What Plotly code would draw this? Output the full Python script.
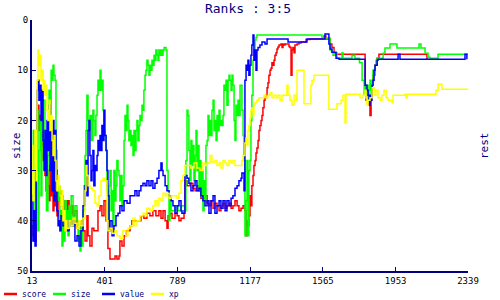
import plotly.graph_objects as go

# ---------------- data ----------------
score_x = [13, 18, 24, 29, 35, 40, 45, 50, 56, 61, 66, 72, 77, 82, 88, 93, 98, 104, 109, 114, 120, 125, 130, 136, 141, 146, 152, 157, 162, 168, 173, 178, 184, 189, 200, 205, 211, 216, 221, 226, 232, 242, 253, 264, 274, 285, 296, 306, 312, 322, 333, 343, 354, 365, 376, 386, 397, 408, 418, 429, 445, 456, 466, 477, 482, 493, 504, 514, 525, 536, 546, 562, 578, 594, 610, 626, 642, 658, 674, 690, 701, 712, 723, 733, 739, 749, 760, 776, 787, 797, 808, 824, 829, 840, 856, 872, 883, 893, 904, 914, 925, 936, 947, 957, 968, 979, 989, 1000, 1011, 1021, 1032, 1043, 1053, 1064, 1075, 1085, 1096, 1107, 1117, 1128, 1139, 1149, 1155, 1160, 1165, 1170, 1176, 1181, 1186, 1192, 1197, 1203, 1208, 1213, 1219, 1224, 1229, 1235, 1240, 1245, 1251, 1256, 1261, 1267, 1272, 1277, 1283, 1288, 1293, 1299, 1304, 1309, 1315, 1320, 1325, 1331, 1341, 1347, 1352, 1357, 1363, 1373, 1384, 1389, 1395, 1400, 1405, 1411, 1416, 1427, 1437, 1448, 1464, 1475, 1496, 1560, 1571, 1581, 1592, 1603, 1613, 1624, 1635, 1774, 1790, 1795, 1800, 1806, 1811, 1816, 1822, 1827, 1832, 1843, 1854, 1864, 1870, 2120, 2126, 2339]
score_y = [41, 43, 40, 44, 28, 20, 17, 22, 19, 25, 22, 28, 26, 31, 34, 30, 33, 36, 29, 35, 31, 38, 35, 37, 34, 39, 36, 35, 34, 37, 35, 38, 39, 36, 38, 36, 39, 37, 38.5, 37, 39, 38, 41.5, 41.5, 40, 42, 44, 39, 43, 45, 41.5, 42, 42, 38, 37, 39, 36, 40, 45.5, 47.6, 47.6, 47, 47.6, 47, 44, 45, 43, 42, 42, 41, 40, 40, 40, 39, 39.5, 38.5, 39, 38, 39, 38, 39.5, 38, 40, 41.5, 39, 38.5, 39.5, 38.5, 39, 40, 39.5, 38, 32, 33, 32.5, 33.5, 34, 33, 34, 35.5, 36, 35, 36.5, 37, 36, 37.5, 36.5, 37, 38, 37, 36.5, 37.5, 37, 36.5, 37.5, 37, 36, 37, 38, 37.5, 37, 38, 43, 40, 41, 39, 35, 37, 33, 31, 29, 28, 26.5, 25.5, 24, 22, 21, 20, 19, 17.5, 16, 15.5, 15, 13.5, 12.5, 11, 10, 9.6, 8.5, 9, 8, 7, 6.5, 5.8, 5.4, 5, 4.8, 5.5, 4.8, 5, 4.8, 4.8, 5.3, 5.5, 11, 6, 5.5, 6.5, 5, 4.8, 4.6, 4.4, 4.4, 3.9, 3.8, 3.8, 3.2, 3.8, 3.8, 4.8, 5.5, 6.5, 6.8, 6.8, 13, 16, 15.5, 17, 16, 19, 15, 13, 11, 9, 7.6, 6.8, 6.8, 7.6, 7.6]

size_x = [13, 20, 29, 35, 40, 45, 50, 56, 61, 66, 72, 82, 90, 98, 104, 110, 115, 120, 125, 130, 136, 141, 146, 152, 158, 162, 168, 173, 178, 184, 189, 195, 200, 205, 211, 216, 222, 232, 242, 253, 259, 264, 269, 274, 280, 285, 291, 296, 301, 306, 312, 317, 322, 330, 338, 343, 349, 354, 360, 365, 370, 376, 381, 386, 392, 397, 402, 408, 413, 418, 424, 429, 435, 440, 445, 450, 456, 461, 466, 472, 477, 482, 488, 493, 498, 504, 509, 515, 520, 525, 530, 536, 541, 546, 552, 557, 562, 568, 573, 578, 584, 589, 594, 600, 605, 610, 616, 621, 626, 632, 637, 642, 648, 653, 658, 664, 669, 674, 680, 685, 690, 696, 701, 707, 712, 718, 728, 733, 739, 744, 749, 755, 760, 776, 792, 808, 829, 834, 840, 845, 850, 856, 861, 866, 872, 877, 883, 888, 893, 899, 904, 909, 914, 920, 925, 931, 936, 941, 947, 952, 957, 963, 968, 973, 979, 984, 989, 995, 1000, 1005, 1011, 1016, 1021, 1027, 1032, 1037, 1043, 1048, 1053, 1059, 1064, 1069, 1075, 1080, 1085, 1091, 1096, 1101, 1107, 1112, 1117, 1123, 1128, 1133, 1139, 1144, 1149, 1155, 1160, 1165, 1170, 1176, 1181, 1186, 1192, 1197, 1203, 1208, 1213, 1219, 1229, 1560, 1576, 1603, 1619, 1630, 1640, 1651, 1667, 1672, 1678, 1720, 1736, 1760, 1774, 1785, 1800, 1806, 1811, 1816, 1822, 1827, 1832, 1838, 1843, 1848, 1854, 1864, 1886, 1896, 1923, 1960, 2078, 2088, 2110, 2126, 2136, 2179, 2339]
size_y = [36, 22, 40, 30, 18, 42, 26, 20, 35, 22, 16, 28, 38, 27, 14, 25, 10, 12, 9, 11, 12, 26, 32, 36, 33, 42, 38, 45, 40, 44, 36, 41, 38, 43, 37, 40, 35, 41, 37, 40, 44, 42, 46, 41, 45, 38, 33, 27, 22, 15, 20, 22, 19, 24, 18, 20, 23, 19, 15, 12, 14, 10, 14, 12, 18, 22, 23, 26, 34, 40, 33, 30, 38, 34, 41, 30, 36, 33, 28, 30, 31, 36, 31, 37, 33, 24, 19, 22, 17, 20, 24, 22, 25, 23, 27, 22, 26, 22, 20, 24, 21, 19, 20, 17, 18, 14, 11, 10, 8, 9, 11, 9, 10, 8, 9, 7, 8, 6, 7, 8, 6, 7, 6, 7, 6, 5.5, 6, 30, 34, 40, 36, 38, 38, 37, 38, 37, 38, 28, 18, 19, 26, 32, 24, 29, 25, 32, 27, 22, 30, 25, 34, 28, 35, 30, 38, 32, 36, 25, 24, 19, 23, 20, 23, 18, 16, 22, 20, 24, 19, 22, 18, 21, 20, 21, 19, 13, 14, 12, 17, 12, 11, 12, 14, 11, 13, 20, 24, 17, 19, 16, 19, 13, 13, 18, 23, 28, 43, 36, 28, 43, 30, 28, 20, 15, 8, 6, 4, 3.5, 3, 3, 3, 3.6, 3.6, 6, 7, 6.5, 7.6, 7.6, 6.5, 7.6, 7.6, 7, 7.6, 8.5, 12, 15, 13, 16, 14, 12, 15, 13, 10, 11, 9, 8, 7.6, 7.6, 6.6, 5.6, 4.8, 5.6, 4.8, 5.6, 6.6, 7.4, 7.6, 6.8, 6.8]

value_x = [13, 18, 24, 29, 35, 40, 45, 50, 56, 61, 66, 72, 77, 82, 88, 93, 98, 104, 109, 114, 120, 125, 130, 136, 141, 146, 152, 157, 162, 168, 178, 189, 200, 211, 221, 232, 242, 253, 264, 274, 285, 296, 301, 306, 312, 317, 322, 328, 333, 338, 343, 349, 354, 360, 365, 370, 376, 381, 386, 392, 397, 402, 408, 413, 418, 424, 429, 440, 450, 461, 472, 482, 493, 504, 520, 536, 552, 562, 573, 584, 594, 605, 616, 626, 637, 648, 658, 669, 680, 690, 701, 707, 712, 723, 733, 744, 755, 765, 776, 787, 797, 808, 813, 829, 840, 850, 861, 872, 883, 893, 904, 914, 925, 936, 947, 957, 968, 979, 989, 1000, 1011, 1021, 1032, 1043, 1053, 1064, 1075, 1085, 1096, 1107, 1117, 1128, 1133, 1144, 1149, 1155, 1160, 1165, 1170, 1176, 1181, 1186, 1192, 1197, 1203, 1208, 1213, 1219, 1229, 1240, 1256, 1267, 1379, 1480, 1571, 1576, 1597, 1603, 1613, 1635, 1651, 1774, 1790, 1800, 1806, 1811, 1816, 1822, 1827, 1832, 1838, 1843, 1854, 1859, 1966, 1976, 2323, 2333]
value_y = [35, 44, 38, 45, 30, 14, 12, 16, 13, 20, 14, 24, 30, 22, 31, 20, 26, 17, 30, 22, 34, 20, 36, 22, 30, 38, 41, 40, 42, 39, 41, 40, 42, 40, 41, 40, 44, 43, 45, 42, 37, 33, 28, 35, 22, 20, 27, 32, 30, 26, 33, 29, 30, 27, 24, 26, 23, 26, 21, 24, 18, 23, 26, 30, 35, 42, 40, 43, 41, 39, 38.5, 37, 38, 36, 36.5, 35, 35, 34, 35, 34, 33, 32.5, 33, 32, 33, 32, 33.5, 32.5, 31.5, 30, 28.5, 30, 31, 33, 34, 35, 36, 37, 38.5, 37, 36, 38, 38.5, 31, 31.5, 32.5, 34, 33, 32, 34, 33.5, 35, 36, 37, 36, 38.5, 36, 35, 38.5, 37, 36, 37.5, 36, 38, 36, 37, 35.5, 35, 33.5, 33, 32, 31.5, 30.5, 34, 12, 9, 10, 8, 11, 9, 7, 5, 3, 8, 6, 10, 6, 5.5, 5, 4.4, 4.8, 3.8, 4.4, 3.8, 3.8, 2.8, 4.8, 5.8, 6.4, 7.6, 7.8, 7.8, 13, 14, 15, 17, 15, 16, 13, 12, 10, 9, 8, 7.8, 6.8, 7.8, 6.8, 7.8]

xp_x = [13, 18, 24, 29, 35, 40, 45, 50, 56, 61, 66, 72, 77, 82, 88, 93, 98, 104, 109, 114, 120, 125, 130, 136, 141, 146, 152, 157, 162, 168, 173, 178, 184, 189, 195, 200, 211, 221, 232, 242, 253, 264, 274, 285, 296, 301, 306, 312, 322, 338, 349, 360, 370, 381, 392, 402, 413, 418, 429, 440, 456, 466, 482, 498, 514, 525, 536, 552, 562, 573, 589, 605, 616, 626, 642, 658, 669, 680, 690, 701, 712, 723, 733, 744, 755, 771, 787, 797, 808, 818, 829, 845, 861, 877, 893, 909, 925, 936, 947, 963, 973, 989, 1000, 1011, 1021, 1032, 1043, 1053, 1064, 1075, 1085, 1096, 1107, 1123, 1133, 1139, 1149, 1155, 1160, 1165, 1170, 1176, 1181, 1186, 1192, 1197, 1203, 1213, 1224, 1240, 1251, 1261, 1272, 1283, 1293, 1304, 1315, 1325, 1336, 1347, 1363, 1373, 1379, 1389, 1400, 1411, 1421, 1427, 1459, 1464, 1496, 1501, 1507, 1517, 1592, 1597, 1630, 1640, 1662, 1672, 1683, 1688, 1752, 1763, 1779, 1790, 1795, 1800, 1806, 1816, 1827, 1838, 1848, 1859, 1870, 1880, 1891, 1902, 1912, 1934, 1939, 2003, 2008, 2014, 2163, 2168, 2179, 2200, 2339]
xp_y = [25, 36, 30, 22, 32, 12, 6, 9, 7, 12, 10, 14, 12, 15, 13, 18, 20, 16, 22, 19, 24, 27, 23, 28, 32, 34, 31, 33, 35, 37, 34, 40, 38, 42, 40, 41.5, 40, 41, 39.5, 40.5, 41.5, 40, 41, 39.5, 34, 29, 31, 33, 33.5, 34, 36.5, 37, 35, 32, 31.5, 32, 40, 42, 41.5, 42.5, 42, 43, 43.5, 42, 43, 41.5, 41, 39.5, 41, 40, 39, 38.5, 39, 37.5, 38, 37, 36, 37, 35.5, 36, 34.5, 35, 34.5, 35.5, 35, 35, 35.5, 34.5, 32, 31, 29, 29, 29.5, 28.5, 29.5, 30, 28.5, 29, 28.5, 27, 28.3, 28, 29, 28.5, 29.5, 28, 28.5, 29, 28, 28.5, 28, 29, 29, 29, 28, 27, 24.5, 23.5, 25, 22, 21, 19.5, 18, 17.5, 19, 17, 16.5, 16, 15.5, 15.5, 15, 15.5, 15, 14.5, 15.5, 15, 15.5, 15, 16, 15, 15, 13, 15, 16, 17, 15, 16, 10, 10, 16.7, 16.7, 13, 12, 11, 11, 17.8, 17.8, 16.7, 16, 15, 20.5, 14.8, 14.8, 15.5, 15, 14, 15.5, 17, 16, 15.5, 13.5, 15, 14, 15.5, 16, 15, 14, 15.5, 16, 16.5, 15, 14.8, 15.5, 14.8, 14.8, 14, 12.8, 13.8, 13.8]

x_ticks = [13, 401, 789, 1177, 1565, 1953, 2339]
y_ticks = [0, 10, 20, 30, 40, 50]

NAVY = "#000080"
FONT = "DejaVu Sans Mono"

series = [
    ("score", score_x, score_y, "#ff0000"),
    ("size", size_x, size_y, "#00ff00"),
    ("value", value_x, value_y, "#0000ff"),
    ("xp", xp_x, xp_y, "#ffff00"),
]

fig = go.Figure()
for name, xs, ys, col in series:
    fig.add_trace(go.Scatter(x=xs, y=ys, mode="lines", name=name,
                             line=dict(color=col, width=1.5, shape="hv"),
                             showlegend=False))

W, H = 500, 300
L, R, T, B = 32, 32, 20, 29
pw, ph = W - L - R, H - T - B


def px2x(px):
    return (px - L) / pw


def py2y(py):
    return 1 - (py - T) / ph


axis_common = dict(showgrid=False, zeroline=False, showline=True, linecolor=NAVY,
                   linewidth=2, ticks="inside", ticklen=4, tickcolor=NAVY, tickwidth=1,
                   tickfont=dict(family=FONT, size=9, color="black"))

fig.update_layout(
    width=W, height=H,
    margin=dict(l=L, r=R, t=T, b=B),
    paper_bgcolor="white", plot_bgcolor="white",
    title=dict(text="Ranks : 3:5", x=0.496, xref="container", y=1 - 8 / H,
               yref="container", xanchor="center", yanchor="middle",
               font=dict(family=FONT, size=13, color=NAVY)),
    xaxis=dict(range=[13, 2339], tickvals=x_ticks, ticktext=[str(v) for v in x_ticks],
               **axis_common),
    yaxis=dict(range=[50, 0], tickvals=y_ticks, **axis_common),
    yaxis2=dict(range=[50, 0], tickvals=y_ticks, overlaying="y", side="right",
                anchor="x", **axis_common),
    showlegend=False,
)

annotations = [
    dict(text="size", x=px2x(8), y=0.5, xref="paper", yref="paper", textangle=-90,
         showarrow=False, font=dict(family=FONT, size=11, color=NAVY)),
    dict(text="rest", x=px2x(493), y=0.5, xref="paper", yref="paper", textangle=-90,
         showarrow=False, font=dict(family=FONT, size=11, color=NAVY)),
]
shapes = []
leg_pos = [(4, 17, 20), (53, 66, 69), (102, 115, 118), (151, 164, 167)]
for (name, _, _, col), (x0, x1, tx) in zip(series, leg_pos):
    shapes.append(dict(type="line", xref="paper", yref="paper", x0=px2x(x0), x1=px2x(x1),
                       y0=py2y(294), y1=py2y(294), line=dict(color=col, width=2.5)))
    annotations.append(dict(text=name, x=px2x(tx), y=py2y(294), xref="paper", yref="paper",
                            xanchor="left", yanchor="middle", showarrow=False,
                            font=dict(family=FONT, size=8, color=NAVY)))
fig.update_layout(annotations=annotations, shapes=shapes)

fig.write_html("out.html")
